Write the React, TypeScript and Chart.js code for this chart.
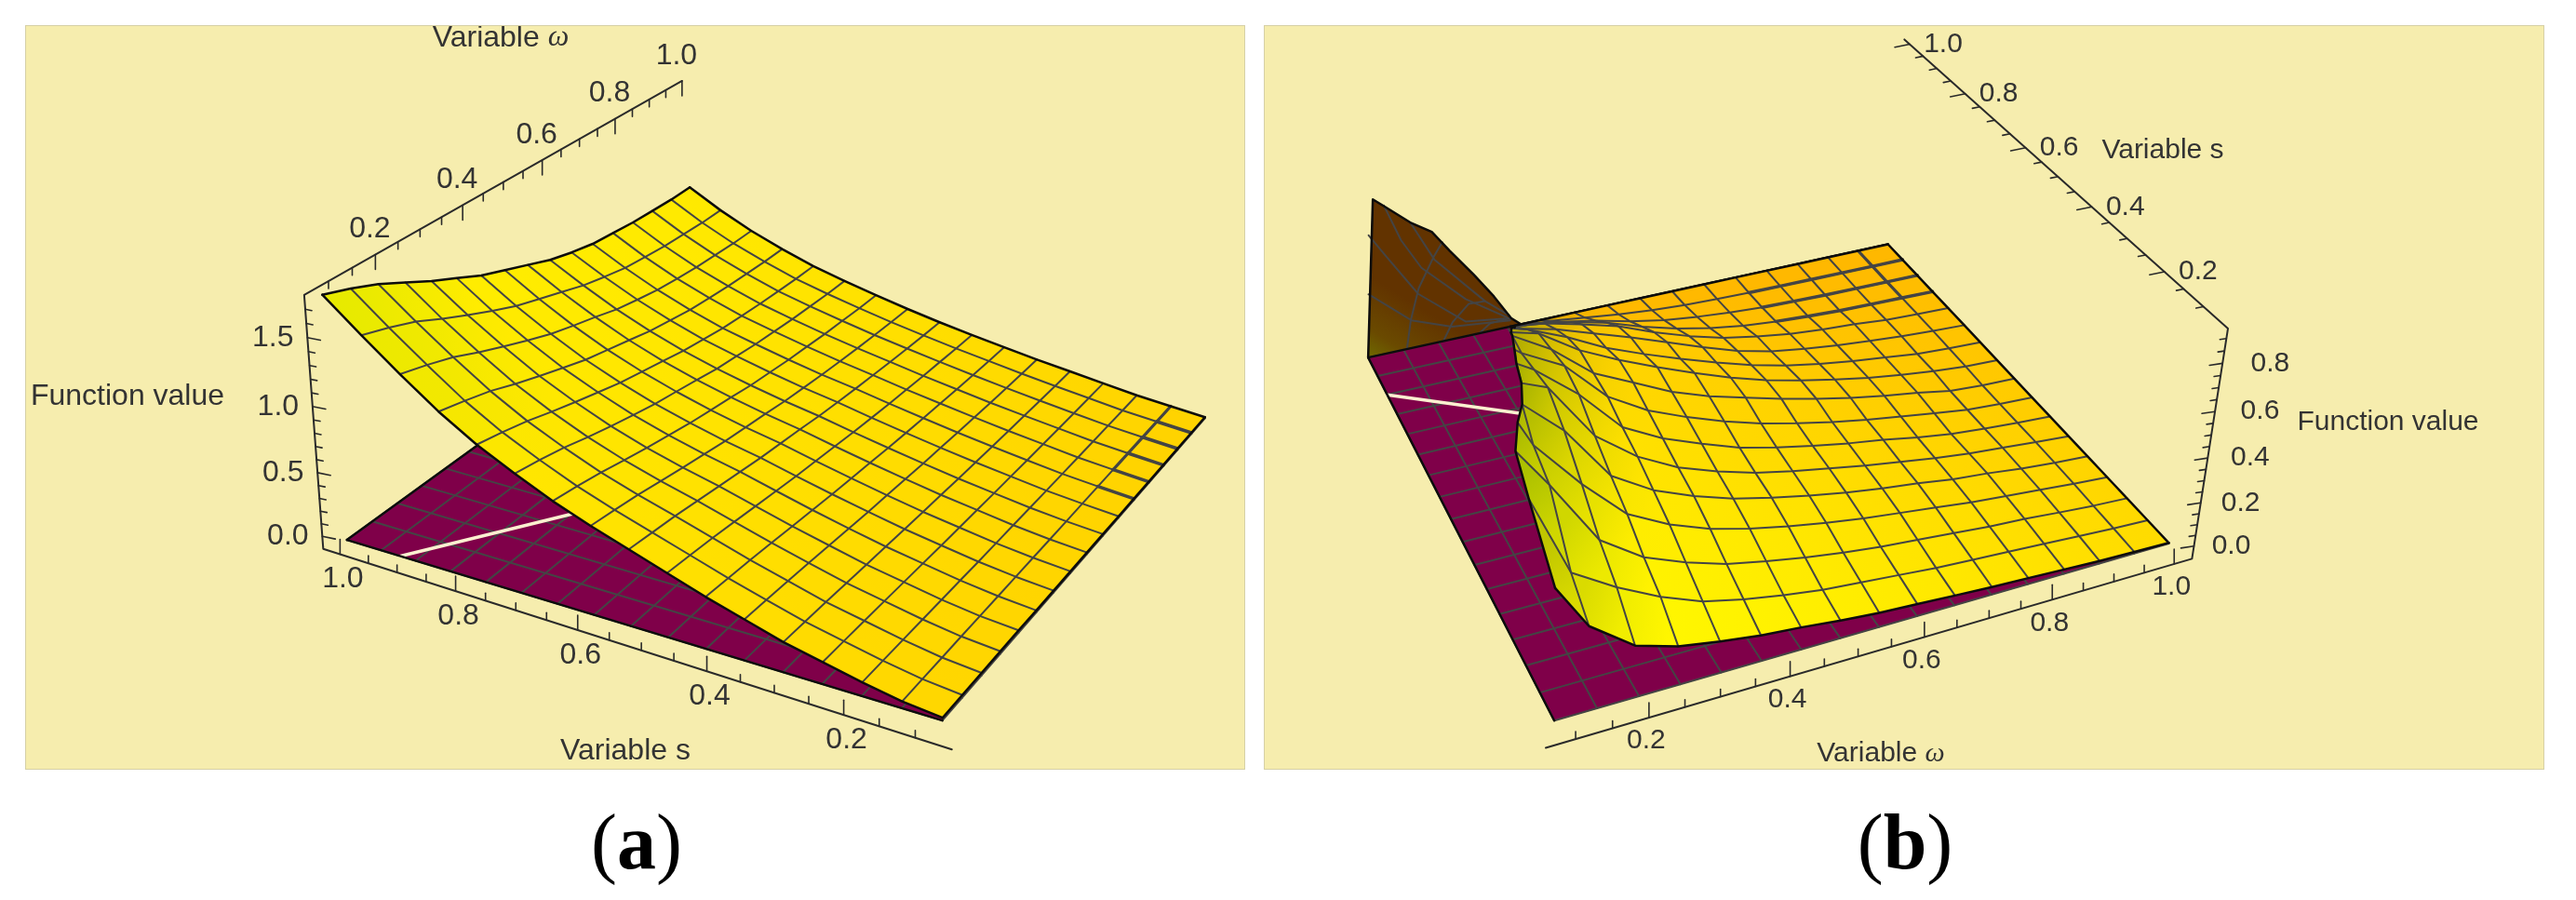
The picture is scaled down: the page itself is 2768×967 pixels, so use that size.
import React, { useEffect, useRef } from "react";
import { Chart, registerables } from "chart.js";
Chart.register(...registerables);

const OMEGA_MESH = [0.08,0.1375,0.195,0.2525,0.31,0.3675,0.425,0.4825,0.54,0.5975,0.655,0.7125,0.77,0.8275,0.885,0.9425,1];
const S_MESH_A = [0.08,0.1375,0.195,0.2525,0.31,0.3675,0.425,0.4825,0.54,0.5975,0.655,0.7125,0.77,0.8275,0.885,0.9425,1];
const S_MESH_B = [0.06,0.119,0.178,0.236,0.295,0.354,0.413,0.471,0.53,0.589,0.648,0.706,0.765,0.824,0.883,0.941,1];

const Z_A = [
[.02,.02,.02,.02,.02,.016,.015,.014,.014,.013,.012,.012,.011,.011,.011,.01,.01],
[.05,.049,.047,.046,.044,.042,.04,.039,.037,.036,.035,.034,.033,.032,.031,.03,.03],
[.10,.097,.093,.089,.084,.08,.075,.072,.069,.065,.062,.059,.057,.055,.053,.051,.05],
[.16,.155,.149,.142,.135,.128,.12,.115,.11,.103,.099,.094,.091,.087,.084,.082,.08],
[.22,.213,.205,.195,.185,.176,.166,.158,.151,.142,.136,.13,.125,.12,.116,.112,.11],
[.30,.289,.278,.264,.25,.235,.221,.21,.199,.187,.178,.169,.162,.154,.149,.144,.14],
[.38,.366,.352,.334,.315,.297,.279,.265,.251,.235,.223,.212,.203,.193,.186,.18,.175],
[.47,.453,.435,.412,.388,.365,.342,.324,.306,.286,.271,.257,.245,.233,.225,.216,.21],
[.56,.539,.518,.49,.462,.435,.407,.386,.365,.341,.323,.306,.292,.278,.267,.257,.25],
[.65,.624,.596,.56,.526,.494,.462,.437,.414,.387,.368,.349,.335,.321,.311,.301,.295],
[.75,.719,.684,.641,.6,.563,.527,.499,.472,.441,.421,.4,.386,.37,.361,.35,.345],
[.87,.833,.79,.736,.688,.644,.602,.57,.538,.503,.48,.457,.441,.425,.415,.404,.40],
[1.0,.958,.91,.85,.795,.743,.692,.654,.615,.575,.546,.518,.501,.485,.474,.464,.46],
[1.16,1.11,1.055,.983,.918,.856,.797,.752,.708,.662,.63,.598,.58,.563,.553,.543,.54],
[1.35,1.293,1.228,1.143,1.066,.993,.924,.87,.82,.765,.727,.692,.671,.653,.642,.632,.63],
[1.55,1.486,1.412,1.316,1.228,1.145,1.067,1.006,.947,.886,.842,.803,.781,.762,.751,.741,.74],
[1.76,1.69,1.61,1.51,1.41,1.32,1.23,1.16,1.09,1.02,.97,.93,.91,.89,.88,.87,.87],
];

const Z_B = [
[.55,.36,.225,.17,.14,.115,.10,.08,.065,.055,.045,.035,.028,.02,.012,.007,.003],
[.8,.47,.36,.27,.2,.16,.13,.105,.09,.075,.06,.05,.04,.03,.02,.01,.003],
[.88,.72,.45,.33,.26,.205,.17,.14,.115,.095,.08,.065,.05,.04,.025,.012,.003],
[.88,.78,.58,.41,.32,.255,.21,.175,.145,.12,.10,.08,.06,.045,.03,.015,.003],
[.84,.84,.70,.47,.365,.295,.24,.2,.165,.135,.11,.09,.065,.05,.03,.015,.003],
[.82,.82,.78,.54,.41,.32,.26,.21,.175,.145,.115,.09,.065,.045,.03,.015,.002],
[.8,.8,.76,.62,.44,.35,.285,.225,.185,.15,.12,.095,.065,.04,.025,.012,.002],
[.76,.76,.74,.65,.48,.38,.31,.25,.2,.16,.125,.095,.07,.045,.022,.01,.002],
[.72,.72,.72,.63,.49,.41,.33,.27,.225,.18,.14,.105,.075,.05,.02,.008,.002],
[.64,.64,.64,.61,.5,.42,.35,.285,.225,.175,.135,.1,.07,.045,.025,.01,.002],
[.56,.56,.56,.54,.47,.385,.32,.26,.205,.155,.115,.085,.06,.04,.02,.01,.002],
[.47,.47,.47,.46,.42,.365,.31,.25,.19,.135,.095,.07,.05,.035,.02,.01,.002],
[.38,.38,.38,.38,.36,.32,.275,.21,.155,.11,.08,.055,.04,.03,.015,.008,.002],
[.28,.28,.28,.28,.275,.245,.205,.15,.105,.07,.045,.03,.02,.012,.008,.005,.001],
[.18,.18,.18,.18,.18,.16,.13,.09,.06,.04,.025,.015,.01,.006,.004,.002,.001],
[.09,.09,.09,.09,.09,.08,.06,.04,.025,.015,.01,.006,.004,.003,.002,.001,.001],
[0,0,0,0,0,0,0,0,0,0,0,0,0,0,0,0,0],
];
const OMEGA_START_B = [.10,.095,.10,.121,.144,.161,.172,.186,.2,.213,.229,.246,.261,.278,.293,.305,.315];

const WALL_RIDGE_OMEGA = [.08,.127,.141,.178,.209,.233,.266,.294,.318,.333];
const WALL_RIDGE_Z = [0,.70,.665,.57,.51,.41,.28,.16,.04,0];
const WALL_LINES_OMEGA = [
  [.097,.157,.22,.316],[.112,.136,.174,.243,.318],[.142,.16,.185,.248,.311],[.178,.207,.279,.315],
  [.143,.156,.176,.207,.223],[.203,.222,.252,.279],[.263,.283,.318],
];
const WALL_LINES_Z = [
  [.29,.13,.06,.03],[.55,.43,.245,.07,.04],[.665,.5,.36,.175,.048],[.57,.385,.146,.056],
  [0,.13,.27,.4,.455],[0,.08,.15,.146],[0,.037,.04],
];

const WHITE_A_S = [.91,.74]; const WHITE_A_OMEGA = [.08,.33];
const WHITE_B_S = [.8825,.73]; const WHITE_B_OMEGA = [.08,.28];

const UNIT_MAJOR = [.2,.4,.6,.8,1];
const UNIT_MINOR = [.1,.15,.25,.3,.35,.45,.5,.55,.65,.7,.75,.85,.9,.95];
const Z_MAJOR_A = [0,.5,1,1.5];
const Z_MINOR_A = [.1,.2,.3,.4,.6,.7,.8,.9,1.1,1.2,1.3,1.4,1.6,1.7];
const Z_MAJOR_B = [0,.2,.4,.6,.8];
const Z_MINOR_B = [.05,.1,.15,.25,.3,.35,.45,.5,.55,.65,.7,.75,.85,.9];

const PURPLE = "#7f0049", MESH = "#444444", EDGE = "#0c0c0c", AXIS = "#2a2a2a", TEXT = "#333333", BG = "#f6edae";

type A = [number, number, number, number, number];
type Proj = (s: number, w: number, z: number) => { x: number; y: number };

function fit(anchors: A[]): Proj {
  const N = 11, M = anchors.flatMap(([X, Y, Z, x0, y0]) => {
    const x = x0 / 1000, y = y0 / 1000;
    return [
      [X, Y, Z, 1, 0, 0, 0, 0, -x * X, -x * Y, -x * Z, x],
      [0, 0, 0, 0, X, Y, Z, 1, -y * X, -y * Y, -y * Z, y],
    ];
  });
  const a = Array.from({ length: N }, () => new Array(N + 1).fill(0));
  for (const r of M) for (let i = 0; i < N; i++) for (let j = 0; j <= N; j++) a[i][j] += r[i] * r[j];
  for (let c = 0; c < N; c++) {
    let p = c;
    for (let r = c + 1; r < N; r++) if (Math.abs(a[r][c]) > Math.abs(a[p][c])) p = r;
    [a[c], a[p]] = [a[p], a[c]];
    for (let r = 0; r < N; r++) if (r !== c) {
      const f = a[r][c] / a[c][c];
      for (let k = c; k <= N; k++) a[r][k] -= f * a[c][k];
    }
  }
  const h = a.map((r, i) => r[N] / r[i]);
  return (s, w, z) => {
    const d = h[8] * s + h[9] * w + h[10] * z + 1;
    return { x: 1000 * (h[0] * s + h[1] * w + h[2] * z + h[3]) / d, y: 1000 * (h[4] * s + h[5] * w + h[6] * z + h[7]) / d };
  };
}

const PANEL_A = { left: 28, top: 28, width: 1309, height: 798 };
const PANEL_B = { left: 1359, top: 28, width: 1374, height: 798 };

const FLOOR_A: A[] = [[1, .08, 0, 373, 577], [.08, .08, 0, 1013, 777], [.08, 1, 0, 1292, 446], [1, 1, 0, 742, 315]];
const SURFACE_A: A[] = [[1, .08, 1.76, 348, 318], [1, 1, .87, 739, 199], [.77, .08, 1.0, 510, 477], [.54, 1, .25, 1015, 349]];
const AXES_A: A[] = [[1.03, .05, -.1, 353, 586], [1.03, .05, 1.8, 327, 315], [1.03, 1, 1.8, 733, 88], [.05, .05, -.1, 1022, 799]];
const ANCHORS_B: A[] = [
  [1, .08, 0, 1470, 384], [.06, .08, 0, 1670, 779], [.06, 1, 0, 2337, 583], [1, 1, 0, 2029, 262],
  [.04, 1.03, -.06, 2349, 602], [.04, 1.03, .94, 2394, 352], [.04, .06, -.06, 1661, 799], [1.02, 1.03, .94, 2046, 43],
];

const clamp = (v: number) => Math.max(0, Math.min(1, v));
const rgb = (c: number[]) => `rgb(${c.map((v) => Math.round(v)).join(",")})`;
const mix = (a: number[], b: number[]) => a.map((v, i) => (v + b[i]) / 2);

function colorA(i: number, j: number) {
  const u = i / 16, v = j / 16;
  const d = clamp(Math.hypot(1 - u, v) / 0.32);
  const g = 214 + 24 * u - 4 * v;
  return [228 + 27 * d, g - (1 - d) * 4, 0];
}
function colorB(i: number, j: number, w: number) {
  const u = i / 16, t = (w - .08) / .92, t0 = (OMEGA_START_B[i] - .08) / .92;
  const g = 255 - 35 * t * (1 - u) - 72 * u;
  const s = Math.pow(clamp((t - t0) / .15), .7);
  const k = i === 0 ? .82 : .68;
  return [255 * (k + (1 - k) * s), g * (.78 + .22 * s), 0];
}

type Label = { text: string; x: number; y: number; size: number; italicTail?: string };

function panelData(canvas: HTMLCanvasElement, panel: typeof PANEL_A, isA: boolean) {
  const P = fit(isA ? [...FLOOR_A, ...SURFACE_A] : ANCHORS_B);
  const Q = isA ? fit([...FLOOR_A, ...AXES_A]) : P;
  const ctx = canvas.getContext("2d")!;
  const sets: any[] = [];
  const add = (pts: { x: number; y: number }[], color: any, width: number, fill?: any) =>
    sets.push({
      data: pts, showLine: true, pointRadius: 0, borderColor: color, borderWidth: width,
      backgroundColor: fill ?? "transparent", fill: fill ? "shape" : false, tension: 0,
      clip: false, borderJoinStyle: "round", borderCapStyle: "round",
    });
  const sMesh = isA ? S_MESH_A : S_MESH_B;
  const table = isA ? Z_A : Z_B;
  const sMin = sMesh[0], wMin = OMEGA_MESH[0];

  if (!isA) {
    const ridge = WALL_RIDGE_OMEGA.map((w, i) => P(1, w, WALL_RIDGE_Z[i]));
    const g = ctx.createLinearGradient(1470 - panel.left, 384 - panel.top, 1510 - panel.left, 320 - panel.top);
    g.addColorStop(0, "#6f6a00"); g.addColorStop(.35, "#6a4a00"); g.addColorStop(1, "#623300");
    add(ridge, g, 1, g);
    WALL_LINES_OMEGA.forEach((ws, n) => add(ws.map((w, i) => P(1, w, WALL_LINES_Z[n][i])), MESH, 2));
    add(ridge, EDGE, 2.5);
  }

  add([P(1, wMin, 0), P(sMin, wMin, 0), P(sMin, 1, 0), P(1, 1, 0), P(1, wMin, 0)], PURPLE, 1, PURPLE);
  sMesh.forEach((s) => add([P(s, wMin, 0), P(s, 1, 0)], MESH, 2));
  OMEGA_MESH.forEach((w) => add([P(sMin, w, 0), P(1, w, 0)], MESH, 2));
  const ws = isA ? WHITE_A_S : WHITE_B_S, wo = isA ? WHITE_A_OMEGA : WHITE_B_OMEGA;
  add([P(ws[0], wo[0], 0), P(ws[1], wo[1], 0)], "#fbf0d0", 3.5);
  add([P(1, wMin, 0), P(sMin, wMin, 0)], EDGE, 2.5);
  add([P(1, wMin, 0), P(1, 1, 0)], EDGE, 2.5);

  const omegaAt = (i: number, j: number) => isA ? OMEGA_MESH[j] : Math.max(OMEGA_MESH[j], OMEGA_START_B[i]);
  const node = (i: number, j: number) => P(sMesh[i], omegaAt(i, j), table[i][j]);
  const nodeColor = (i: number, j: number) => isA ? colorA(i, j) : colorB(i, j, omegaAt(i, j));

  for (let i = 15; i >= 0; i--) {
    for (let j = 0; j < 16; j++) {
      const a = node(i, j), b = node(i, j + 1), c = node(i + 1, j + 1), d = node(i + 1, j);
      const x0 = (a.x + d.x) / 2 - panel.left, y0 = (a.y + d.y) / 2 - panel.top;
      const x1 = (b.x + c.x) / 2 - panel.left, y1 = (b.y + c.y) / 2 - panel.top;
      const g = ctx.createLinearGradient(x0, y0, x1, y1);
      g.addColorStop(0, rgb(mix(nodeColor(i, j), nodeColor(i + 1, j))));
      g.addColorStop(1, rgb(mix(nodeColor(i, j + 1), nodeColor(i + 1, j + 1))));
      add([a, b, c, d, a], g, 1, g);
    }
  }
  for (let i = 1; i < 16; i++) add(OMEGA_MESH.map((_, j) => node(i, j)), MESH, 2);
  for (let j = 1; j < 16; j++) add(sMesh.map((_, i) => node(i, j)), MESH, 2);
  if (isA) {
    [11, 12, 13, 14, 15].forEach((j) => add([node(0, j), node(1, j)], MESH, 3.6));
    add([node(1, 12), node(1, 13), node(1, 14), node(1, 15), node(1, 16)], MESH, 3.2);
  } else {
    [13, 14, 15].forEach((i) => add([node(i, 11), node(i, 12), node(i, 13), node(i, 14), node(i, 15), node(i, 16)], MESH, 3.4));
    add([node(13, 15), node(14, 15), node(15, 15), node(16, 15)], MESH, 3.2);
  }
  add(OMEGA_MESH.map((_, j) => node(0, j)), EDGE, 2.5);
  add(OMEGA_MESH.map((_, j) => node(16, j)), EDGE, 2.5);
  add(sMesh.map((_, i) => node(i, 0)), EDGE, 2.5);
  add(sMesh.map((_, i) => node(i, 16)), EDGE, 2.5);

  const labels: Label[] = [];
  const size = isA ? 32 : 30;
  const tick = (p: { x: number; y: number }, dx: number, dy: number, k: number) =>
    add([p, { x: p.x + dx * k, y: p.y + dy * k }], AXIS, 1.6);
  const fmt = (v: number) => v.toFixed(1);

  if (isA) {
    const sA = 1.03, wA = .05, zLo = -.1, zHi = 1.8, sEnd = .05;
    add([Q(sEnd, wA, zLo), Q(sA, wA, zLo), Q(sA, wA, zHi), Q(sA, 1, zHi)], AXIS, 2);
    UNIT_MAJOR.forEach((v) => { const p = Q(sA, v, zHi); tick(p, 0, 1, 16); labels.push({ text: fmt(v), x: p.x - 6, y: p.y - 27, size }); });
    UNIT_MINOR.forEach((v) => tick(Q(sA, v, zHi), 0, 1, 8));
    UNIT_MAJOR.forEach((v) => { const p = Q(v, wA, zLo); tick(p, 0, -1, 16); labels.push({ text: fmt(v), x: p.x + 3, y: p.y + 27, size }); });
    UNIT_MINOR.forEach((v) => tick(Q(v, wA, zLo), 0, -1, 8));
    Z_MAJOR_A.forEach((v) => { const p = Q(sA, wA, v); tick(p, 1, .2, 14); labels.push({ text: fmt(v), x: p.x - 37, y: p.y, size }); });
    Z_MINOR_A.forEach((v) => tick(Q(sA, wA, v), 1, .2, 7));
    labels.push({ text: "Variable ", italicTail: "ω", x: 538, y: 41, size });
    labels.push({ text: "Function value", x: 137, y: 426, size });
    labels.push({ text: "Variable s", x: 672, y: 807, size });
  } else {
    const sA = .04, wA = 1.03, zLo = -.06, zHi = .94, wEnd = .06;
    add([Q(sA, wEnd, zLo), Q(sA, wA, zLo), Q(sA, wA, zHi), Q(1.02, wA, zHi)], AXIS, 2);
    UNIT_MAJOR.forEach((v) => { const p = Q(sA, v, zLo); tick(p, 0, -1, 16); labels.push({ text: fmt(v), x: p.x - 3, y: p.y + 25, size }); });
    UNIT_MINOR.forEach((v) => tick(Q(sA, v, zLo), 0, -1, 8));
    UNIT_MAJOR.forEach((v) => { const p = Q(v, wA, zHi); tick(p, -1, .2, 16); labels.push({ text: fmt(v), x: p.x + 36, y: p.y, size }); });
    UNIT_MINOR.forEach((v) => tick(Q(v, wA, zHi), -1, .2, 8));
    Z_MAJOR_B.forEach((v) => { const p = Q(sA, wA, v); tick(p, -1, .15, 14); labels.push({ text: fmt(v), x: p.x + 40 + v * 14, y: p.y, size }); });
    Z_MINOR_B.forEach((v) => tick(Q(sA, wA, v), -1, .15, 7));
    labels.push({ text: "Variable s", x: 2324, y: 162, size });
    labels.push({ text: "Variable ", italicTail: "ω", x: 2021, y: 810, size });
    labels.push({ text: "Function value", x: 2566, y: 454, size });
  }
  sets.forEach((d, n) => { d.order = -n; });
  return { sets, labels };
}

function Panel({ panel, isA }: { panel: typeof PANEL_A; isA: boolean }) {
  const ref = useRef<HTMLCanvasElement>(null);
  useEffect(() => {
    const canvas = ref.current!;
    const { sets, labels } = panelData(canvas, panel, isA);
    const textPlugin = {
      id: "panelText",
      afterDraw(chart: any) {
        const c = chart.ctx, sx = chart.scales.x, sy = chart.scales.y;
        c.save();
        c.fillStyle = TEXT; c.textBaseline = "middle"; c.textAlign = "left";
        for (const l of labels) {
          const sans = `${l.size}px "Liberation Sans"`, it = `italic ${l.size}px "Liberation Serif"`;
          c.font = sans;
          const w1 = c.measureText(l.text).width;
          c.font = it;
          const w2 = l.italicTail ? c.measureText(l.italicTail).width : 0;
          const x0 = sx.getPixelForValue(l.x) - (w1 + w2) / 2, y = sy.getPixelForValue(l.y);
          c.font = sans;
          c.fillText(l.text, x0, y);
          if (l.italicTail) { c.font = it; c.fillText(l.italicTail, x0 + w1, y); }
        }
        c.restore();
      },
    };
    const chart = new Chart(canvas, {
      type: "scatter",
      data: { datasets: sets },
      options: {
        animation: false, responsive: false, devicePixelRatio: 1, events: [],
        layout: { padding: 0 },
        plugins: { legend: { display: false }, tooltip: { enabled: false } },
        scales: {
          x: { type: "linear", display: false, min: panel.left, max: panel.left + panel.width },
          y: { type: "linear", display: false, reverse: true, min: panel.top, max: panel.top + panel.height },
        },
      },
      plugins: [textPlugin],
    } as any);
    return () => chart.destroy();
  }, []);
  return (
    <canvas
      ref={ref}
      width={panel.width}
      height={panel.height}
      style={{ position: "fixed", left: panel.left, top: panel.top, width: panel.width, height: panel.height, background: BG, outline: "1px solid #d6d0a6", display: "block" }}
    />
  );
}

const captionStyle = (cx: number): React.CSSProperties => ({
  position: "fixed", left: cx - 100, top: 860, width: 200, textAlign: "center",
  font: '84px/90px "Liberation Serif", serif', color: "#000",
});

export default function App() {
  return (
    <div style={{ position: "fixed", inset: 0, background: "#fff", overflow: "hidden" }}>
      <Panel panel={PANEL_A} isA={true} />
      <Panel panel={PANEL_B} isA={false} />
      <div style={captionStyle(684)}>(<b>a</b>)</div>
      <div style={captionStyle(2047)}>(<b>b</b>)</div>
    </div>
  );
}
